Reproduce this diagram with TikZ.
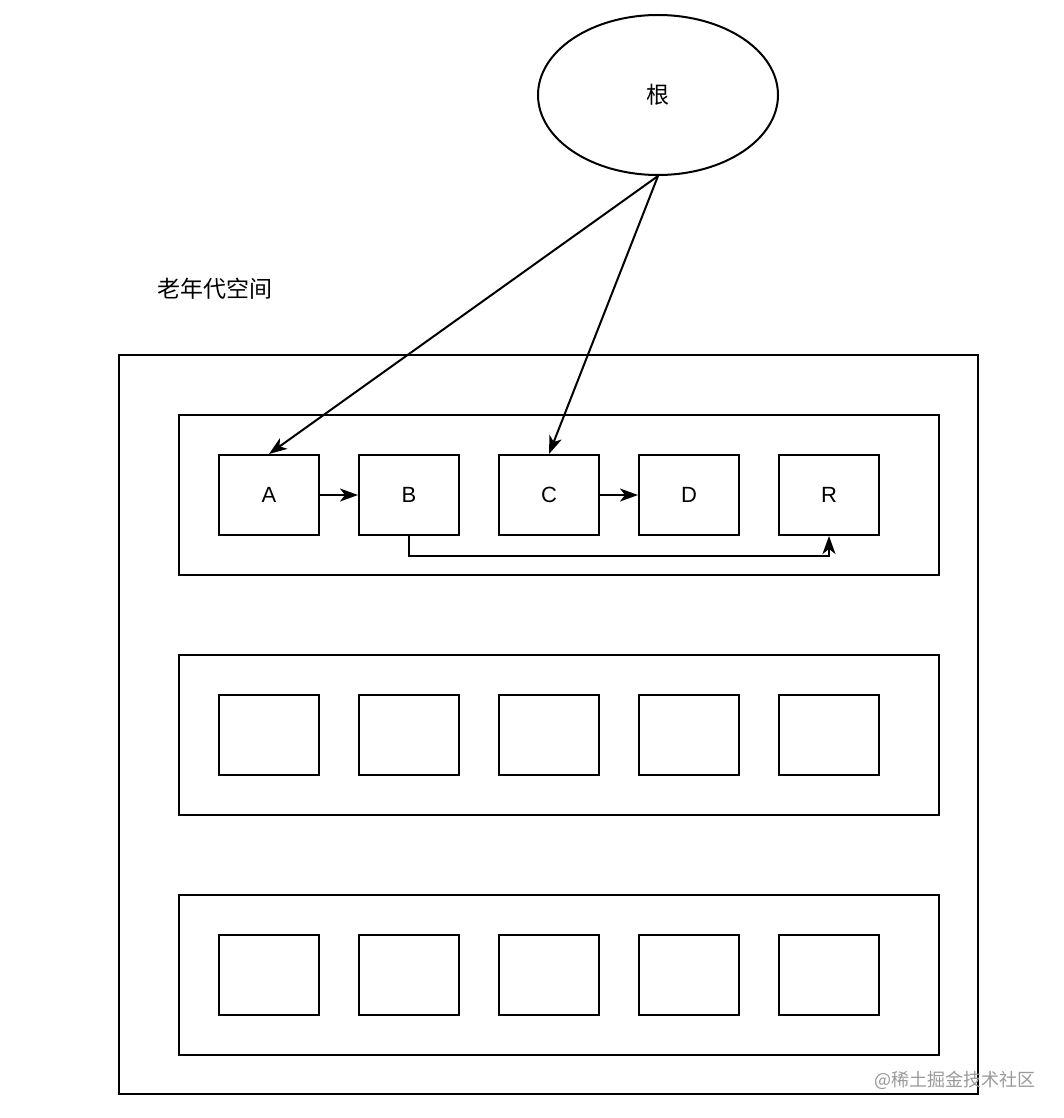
\documentclass[tikz,border=0pt]{standalone}
\usepackage{fontspec}
\setmainfont{Liberation Sans}
\newfontfamily\cjk{Noto Sans CJK SC}
\usetikzlibrary{positioning}
\usetikzlibrary{arrows.meta}
\usetikzlibrary{shapes.geometric}
\tikzset{
  objbox/.style={rectangle,draw,line width=1pt,minimum width=50pt,
                 minimum height=40pt,inner sep=0pt,
                 font=\fontsize{11}{13}\selectfont},
  region/.style={rectangle,draw,line width=1pt,minimum width=380pt,
                 minimum height=80pt,inner sep=0pt},
  rootnode/.style={ellipse,draw,line width=1pt,minimum width=120pt,
                   minimum height=80pt,inner sep=0pt,
                   font=\cjk\fontsize{11.5}{14}\selectfont},
  refarrow/.style={>={Stealth[length=9pt,width=6.5pt,inset=2.5pt]},
                   line width=1pt,->},
  caption/.style={font=\cjk\fontsize{11.5}{14}\selectfont},
  watermark/.style={font=\cjk\fontsize{9}{11}\selectfont,text=black!40},
}

\begin{document}
\begin{tikzpicture}[x=0.5pt,y=-0.5pt,node distance=19pt]
    \useasboundingbox (0,0) rectangle (1064,1118);

    % Old generation space
    \node[rectangle,draw,line width=1pt,minimum width=429.5pt,
          minimum height=369.5pt,inner sep=0pt] (heap) at (548.5,724.5) {};
    \node[caption] (title) at (215,289) {老年代空间};

    % Regions
    \node[region] (reg1) at (559,495) {};
    \node[region] (reg2) at (559,735) {};
    \node[region] (reg3) at (559,975) {};

    % Objects, first region
    \node[objbox] (a) at (269,495) {A};
    \node[objbox] (b) [right=of a] {B};
    \node[objbox] (c) [right=of b] {C};
    \node[objbox] (d) [right=of c] {D};
    \node[objbox] (r) [right=of d] {R};

    % Empty objects, other regions
    \foreach \row/\y in {2/735,3/975} {
        \node[objbox] (e\row1) at (269,\y) {};
        \node[objbox] (e\row2) [right=of e\row1] {};
        \node[objbox] (e\row3) [right=of e\row2] {};
        \node[objbox] (e\row4) [right=of e\row3] {};
        \node[objbox] (e\row5) [right=of e\row4] {};
    }

    % Root
    \node[rootnode] (root) at (658,95) {根};

    % References
    \draw[refarrow] (root.south) -- (a.north);
    \draw[refarrow] (root.south) -- (c.north);
    \draw[refarrow] (a) -- (b);
    \draw[refarrow] (c) -- (d);
    \draw[refarrow] (b.south) -- ++(0,20) -| (r.south);

    \node[watermark] (mark) at (955,1080) {@稀土掘金技术社区};
\end{tikzpicture}
\end{document}
